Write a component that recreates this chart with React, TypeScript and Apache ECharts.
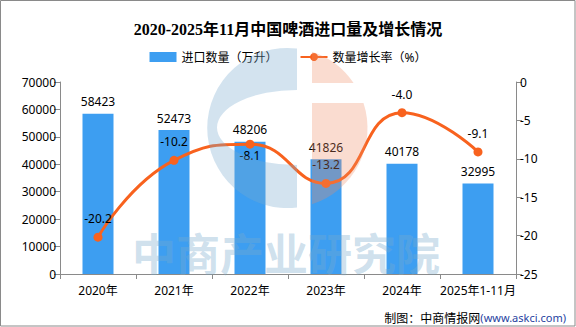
import React, { useEffect, useRef } from "react";
import * as echarts from "echarts";

const categories = ["2020年", "2021年", "2022年", "2023年", "2024年", "2025年1-11月"];
const importVolume = [58423, 52473, 48206, 41826, 40178, 32995];
const growthRate = [-20.2, -10.2, -8.1, -13.2, -4.0, -9.1];
const belowLabelIndex = [2];

const leftTicks = { min: 0, max: 70000, interval: 10000 };
const rightTicks = { min: -25, max: 0, interval: 5 };

const FONT = "'Noto Sans', 'Noto Sans CJK SC', sans-serif";

const blueC =
  "M297 48.6 A80 80 0 1 0 297 207.4 L297 165 A80 37.5 0 0 1 297 90 Z";
const orangeTop = "M312 51.8 A80 80 0 0 1 353.6 83 L312 83 Z";
const orangeBottom = "M312 103 L363.5 103 A80 80 0 0 1 312 204.2 Z";

let registered = false;
function registerShapes() {
  if (registered) return;
  registered = true;
  echarts.graphic.registerShape("wmBlue", echarts.graphic.extendPath(blueC, {}) as any);
  echarts.graphic.registerShape("wmOrangeTop", echarts.graphic.extendPath(orangeTop, {}) as any);
  echarts.graphic.registerShape("wmOrangeBottom", echarts.graphic.extendPath(orangeBottom, {}) as any);
}

export default function App() {
  const ref = useRef<HTMLDivElement>(null);
  useEffect(() => {
    if (!ref.current) return;
    registerShapes();
    const chart = echarts.init(ref.current, null, { renderer: "svg" });
    const axisColor = "#8a8a8a";
    chart.setOption({
      animation: false,
      backgroundColor: "#ffffff",
      title: {
        text: "2020-2025年11月中国啤酒进口量及增长情况",
        left: "center",
        top: 16,
        textStyle: {
          fontSize: 16,
          fontWeight: "bold",
          color: "#000",
          fontFamily: "'Liberation Serif', 'Noto Sans CJK SC', serif",
        },
      },
      legend: {
        top: 46,
        left: "center",
        itemGap: 22,
        itemWidth: 27,
        itemHeight: 10,
        textStyle: { fontSize: 12, color: "#000", fontFamily: FONT },
        data: [
          { name: "进口数量（万升）", icon: "rect" },
          { name: "数量增长率（%）" },
        ],
      },
      grid: { left: 60, right: 60, top: 82, bottom: 53 },
      xAxis: {
        type: "category",
        data: categories,
        axisLine: { lineStyle: { color: axisColor } },
        axisTick: { show: true, length: 5, lineStyle: { color: axisColor } },
        axisLabel: { color: "#000", fontSize: 12, margin: 10, interval: 0, fontFamily: FONT },
      },
      yAxis: [
        {
          type: "value",
          ...leftTicks,
          axisLine: { show: true, lineStyle: { color: axisColor } },
          axisTick: { show: true, length: 6, lineStyle: { color: axisColor } },
          axisLabel: {
            color: "#000",
            fontSize: 12,
            margin: 4,
            fontFamily: FONT,
            formatter: (v: number) => String(v),
          },
          splitLine: { show: false },
        },
        {
          type: "value",
          position: "right",
          ...rightTicks,
          axisLine: { show: true, lineStyle: { color: axisColor } },
          axisTick: { show: true, length: 6, lineStyle: { color: axisColor } },
          axisLabel: {
            color: "#000",
            fontSize: 12,
            margin: 4,
            fontFamily: FONT,
            formatter: (v: number) => String(v),
          },
          splitLine: { show: false },
        },
      ],
      series: [
        {
          name: "进口数量（万升）",
          type: "bar",
          data: importVolume,
          barWidth: 31,
          itemStyle: { color: "#3d9ef1" },
          label: {
            show: true,
            position: "top",
            distance: 6,
            color: "#000",
            fontSize: 12,
            fontFamily: FONT,
          },
        },
        {
          name: "数量增长率（%）",
          type: "line",
          yAxisIndex: 1,
          smooth: true,
          symbol: "circle",
          symbolSize: 9,
          lineStyle: { color: "#f8621e", width: 3 },
          itemStyle: { color: "#f8621e" },
          data: growthRate.map((v, i) => ({
            value: v,
            label: belowLabelIndex.includes(i)
              ? { position: "bottom", distance: 1 }
              : { position: "top", distance: 8 },
          })),
          label: {
            show: true,
            color: "#000",
            fontSize: 12,
            fontFamily: FONT,
            formatter: (p: any) => Number(p.value).toFixed(1),
          },
          z: 3,
        },
      ],
      graphic: [
        {
          type: "wmBlue",
          z: 100,
          silent: true,
          style: { fill: "rgb(120,170,205)", opacity: 0.33 },
        },
        {
          type: "wmOrangeTop",
          z: 100,
          silent: true,
          style: { fill: "rgb(240,140,100)", opacity: 0.3 },
        },
        {
          type: "wmOrangeBottom",
          z: 100,
          silent: true,
          style: { fill: "rgb(240,140,100)", opacity: 0.3 },
        },
        {
          type: "text",
          z: 100,
          silent: true,
          x: 286,
          y: 252,
          style: {
            text: "中商产业研究院",
            fontSize: 44,
            lineHeight: 44,
            fontWeight: "bold",
            fontFamily: "'Noto Sans CJK SC', sans-serif",
            fill: "rgba(120,170,205,0.36)",
            align: "center",
            verticalAlign: "middle",
          },
        },
        {
          type: "text",
          x: 566,
          y: 317,
          style: {
            text: "{a|制图：中商情报网}{b|(www.askci.com)}",
            align: "right",
            verticalAlign: "middle",
            rich: {
              a: { fontSize: 12, fill: "#000", fontFamily: "'Noto Sans CJK SC', sans-serif" },
              b: { fontSize: 11, fill: "#1f3f9f", fontFamily: FONT },
            },
          },
        },
        {
          type: "rect",
          z: 110,
          silent: true,
          shape: { x: 0.5, y: 0.5, width: 574.5, height: 325.5 },
          style: { fill: "none", stroke: "#8a8a8a", lineWidth: 1 },
        },
      ],
    });
    return () => chart.dispose();
  }, []);
  return (
    <div
      ref={ref}
      style={{ position: "absolute", left: 0, top: 0, width: 576, height: 327 }}
    />
  );
}
